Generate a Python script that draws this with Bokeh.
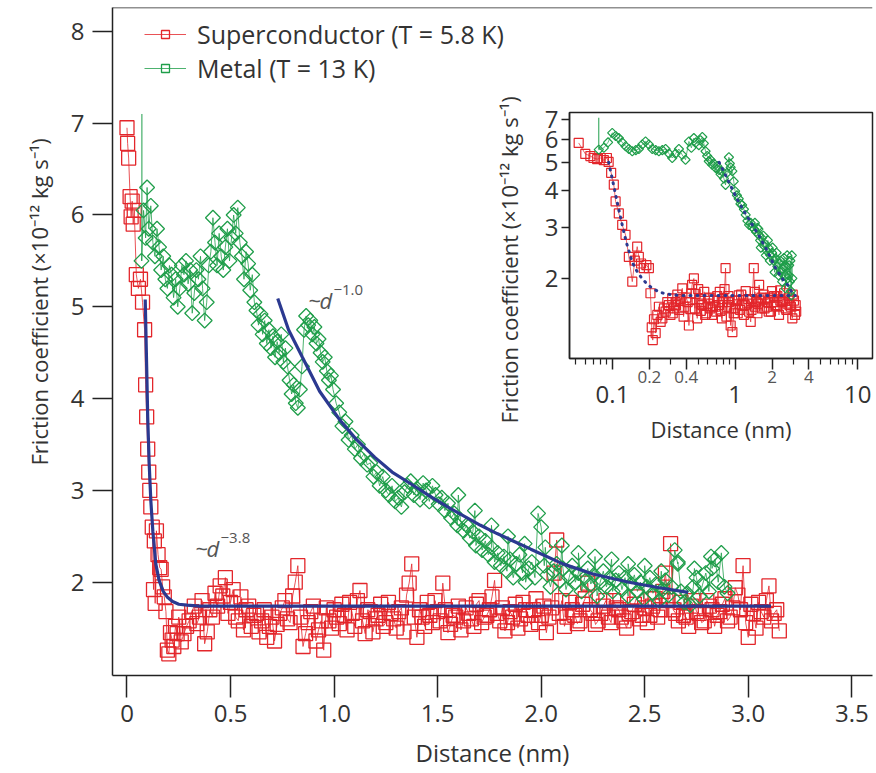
from bokeh.plotting import figure
from bokeh.models import (Range1d, FixedTicker, Span, Label, Legend, LegendItem, Title,
                          NumeralTickFormatter, BasicTickFormatter, LogAxis)
from bokeh.layouts import column
from bokeh.embed import file_html
from bokeh.resources import INLINE

FONT = "Open Sans"
TXT = "#333333"
RED = "#e3262b"
GREEN = "#1f9e4a"
BLUE = "#2b3990"

# ---------------- main panel data ----------------
sc_x_start = [0.000, 0.003, 0.008, 0.015, 0.020, 0.025, 0.030, 0.035, 0.045, 0.055,
              0.065, 0.075, 0.085, 0.090, 0.095, 0.100, 0.105, 0.110, 0.115, 0.122,
              0.128, 0.132, 0.136, 0.142, 0.150, 0.158, 0.165, 0.172, 0.180, 0.188,
              0.195, 0.202, 0.210, 0.218, 0.226, 0.234, 0.242, 0.250, 0.262]
sc_y_start = [6.95, 6.78, 6.62, 6.20, 5.98, 6.15, 5.90, 6.05, 5.35, 5.20,
              5.30, 5.05, 4.75, 4.15, 3.80, 3.45, 3.20, 3.00, 2.82, 2.60,
              1.92, 2.45, 1.77, 2.56, 2.30, 2.16, 2.14, 1.95, 1.84, 1.68,
              1.26, 1.22, 1.45, 1.37, 1.30, 1.52, 1.44, 1.62, 1.35]
sc_x_plateau = [0.275, 0.300, 0.325, 0.350, 0.375, 0.400, 0.425, 0.450, 0.475, 0.500,
                0.525, 0.550, 0.575, 0.600, 0.625, 0.650, 0.675, 0.700, 0.725, 0.750,
                0.775, 0.800, 0.825, 0.850, 0.875, 0.900, 0.925, 0.950, 0.975, 1.000,
                1.025, 1.050, 1.075, 1.100, 1.125, 1.150, 1.175, 1.200, 1.225, 1.250,
                1.275, 1.300, 1.325, 1.350, 1.375, 1.400, 1.425, 1.450, 1.475, 1.500,
                1.525, 1.550, 1.575, 1.600, 1.625, 1.650, 1.675, 1.700, 1.725, 1.750,
                1.775, 1.800, 1.825, 1.850, 1.875, 1.900, 1.925, 1.950, 1.975, 2.000,
                2.025, 2.050, 2.075, 2.100, 2.125, 2.150, 2.175, 2.200, 2.225, 2.250,
                2.275, 2.300, 2.325, 2.350, 2.375, 2.400, 2.425, 2.450, 2.475, 2.500,
                2.525, 2.550, 2.575, 2.600, 2.625, 2.650, 2.675, 2.700, 2.725, 2.750,
                2.775, 2.800, 2.825, 2.850, 2.875, 2.900, 2.925, 2.950, 2.975, 3.000,
                3.025, 3.050, 3.075, 3.100, 3.125, 3.150]
sc_y_plateau = [1.44, 1.58, 1.74, 1.62, 1.33, 1.70, 1.88, 1.96, 2.05, 1.78,
                1.62, 1.84, 1.70, 1.52, 1.66, 1.58, 1.40, 1.62, 1.54, 1.72,
                1.60, 1.85, 2.18, 1.30, 1.56, 1.74, 1.48, 1.26, 1.58, 1.70,
                1.55, 1.64, 1.78, 1.52, 1.91, 1.44, 1.68, 1.60, 1.76, 1.56,
                1.66, 1.50, 1.72, 1.86, 2.20, 1.40, 1.62, 1.78, 1.56, 1.68,
                1.99, 1.45, 1.64, 1.74, 1.58, 1.66, 1.52, 1.80, 1.62, 1.70,
                2.02, 1.58, 1.47, 1.68, 1.76, 1.60, 1.70, 1.54, 1.82, 1.64,
                1.45, 1.72, 2.46, 1.80, 1.62, 1.70, 1.55, 1.76, 1.99, 1.66,
                1.58, 1.74, 1.62, 1.80, 1.70, 1.58, 1.66, 1.76, 1.60, 1.72,
                1.64, 1.82, 1.70, 2.10, 2.42, 1.66, 1.78, 1.62, 1.74, 1.68,
                1.56, 1.80, 1.70, 1.64, 1.76, 1.58, 1.72, 1.86, 2.18, 1.40,
                1.66, 1.78, 1.62, 1.96, 1.66, 1.47]
sc_x_plateau_b = [0.2875, 0.3125, 0.3375, 0.3625, 0.3875, 0.4125, 0.4375, 0.4625, 0.4875, 0.5125,
                  0.5375, 0.5625, 0.5875, 0.6125, 0.6375, 0.6625, 0.6875, 0.7125, 0.7375, 0.7625,
                  0.7875, 0.8125, 0.8375, 0.8625, 0.8875, 0.9125, 0.9375, 0.9625, 0.9875, 1.0125,
                  1.0375, 1.0625, 1.0875, 1.1125, 1.1375, 1.1625, 1.1875, 1.2125, 1.2375, 1.2625,
                  1.2875, 1.3125, 1.3375, 1.3625, 1.3875, 1.4125, 1.4375, 1.4625, 1.4875, 1.5125,
                  1.5375, 1.5625, 1.5875, 1.6125, 1.6375, 1.6625, 1.6875, 1.7125, 1.7375, 1.7625,
                  1.7875, 1.8125, 1.8375, 1.8625, 1.8875, 1.9125, 1.9375, 1.9625, 1.9875, 2.0125,
                  2.0375, 2.0625, 2.0875, 2.1125, 2.1375, 2.1625, 2.1875, 2.2125, 2.2375, 2.2625,
                  2.2875, 2.3125, 2.3375, 2.3625, 2.3875, 2.4125, 2.4375, 2.4625, 2.4875, 2.5125,
                  2.5375, 2.5625, 2.5875, 2.6125, 2.6375, 2.6625, 2.6875, 2.7125, 2.7375, 2.7625,
                  2.7875, 2.8125, 2.8375, 2.8625, 2.8875, 2.9125, 2.9375, 2.9625, 2.9875, 3.0125,
                  3.0375, 3.0625, 3.0875, 3.1125, 3.1375]
sc_y_plateau_b = [1.52, 1.68, 1.55, 1.80, 1.46, 1.62, 1.74, 1.85, 1.66, 1.92,
                  1.58, 1.48, 1.74, 1.64, 1.46, 1.70, 1.52, 1.36, 1.66, 1.80,
                  1.56, 2.00, 1.62, 1.44, 1.68, 1.36, 1.58, 1.72, 1.50, 1.62,
                  1.76, 1.48, 1.66, 1.80, 1.58, 1.70, 1.46, 1.64, 1.52, 1.78,
                  1.60, 1.68, 1.46, 1.99, 1.62, 1.70, 1.52, 1.64, 1.80, 1.58,
                  1.70, 1.54, 1.62, 1.48, 1.72, 1.60, 1.76, 1.56, 1.64, 1.84,
                  1.66, 1.72, 1.56, 1.62, 1.50, 1.78, 1.64, 1.70, 1.56, 1.74,
                  1.62, 2.10, 1.66, 1.52, 1.78, 1.64, 1.58, 1.82, 1.70, 1.54,
                  1.66, 1.80, 1.56, 1.72, 1.62, 1.50, 1.68, 1.84, 1.64, 1.56,
                  1.74, 1.62, 1.90, 1.80, 1.70, 1.58, 1.64, 1.52, 1.80, 1.66,
                  1.58, 1.74, 1.52, 1.68, 1.82, 1.62, 1.94, 1.70, 1.56, 1.76,
                  1.50, 1.68, 1.80, 1.58, 1.70]

metal_x_near = [0.070, 0.080, 0.090, 0.097, 0.105, 0.115, 0.125, 0.135, 0.145, 0.155,
                0.165, 0.175, 0.185, 0.195, 0.205, 0.215, 0.225, 0.235, 0.245, 0.255,
                0.265, 0.275, 0.285, 0.295, 0.305, 0.315, 0.325, 0.335, 0.345, 0.355,
                0.365, 0.375, 0.385, 0.395, 0.405, 0.415, 0.425, 0.435, 0.445, 0.455,
                0.465, 0.475, 0.485, 0.495, 0.505, 0.515, 0.525, 0.535, 0.545, 0.555,
                0.565, 0.575, 0.585, 0.595, 0.605, 0.615, 0.625, 0.635, 0.645, 0.655,
                0.665, 0.675, 0.685, 0.695, 0.705, 0.715, 0.725, 0.735, 0.745, 0.755,
                0.765, 0.775, 0.785, 0.795, 0.805, 0.815, 0.825, 0.835, 0.845, 0.855,
                0.865, 0.875, 0.885, 0.895, 0.905, 0.915, 0.925, 0.935, 0.945, 0.955,
                0.965, 0.975, 0.985, 0.995]
metal_y_near = [5.50, 6.05, 5.75, 6.30, 5.85, 6.10, 5.70, 5.55, 5.85, 5.65,
                5.40, 5.55, 5.30, 5.20, 5.45, 5.35, 5.10, 5.30, 5.00, 5.20,
                5.45, 5.35, 5.50, 5.25, 5.40, 4.93, 5.15, 5.40, 5.30, 5.55,
                5.20, 4.85, 5.05, 5.45, 5.60, 5.97, 5.70, 5.45, 5.80, 5.55,
                5.40, 5.65, 5.85, 5.50, 5.75, 6.00, 5.80, 6.08, 5.70, 5.55,
                5.30, 5.60, 5.47, 5.18, 5.35, 5.05, 4.96, 4.80, 4.92, 4.70,
                4.85, 4.60, 4.75, 4.55, 4.68, 4.45, 4.62, 4.50, 4.70, 4.40,
                4.55, 4.35, 4.20, 4.05, 4.15, 3.95, 3.90, 4.10, 4.35, 4.75,
                4.90, 4.80, 4.85, 4.70, 4.78, 4.60, 4.65, 4.50, 4.40, 4.45,
                4.30, 4.20, 4.25, 4.10]
metal_x_far = [1.010, 1.025, 1.040, 1.055, 1.070, 1.085, 1.100, 1.115, 1.130, 1.145,
               1.160, 1.175, 1.190, 1.205, 1.220, 1.235, 1.250, 1.265, 1.280, 1.295,
               1.310, 1.325, 1.340, 1.355, 1.370, 1.385, 1.400, 1.415, 1.430, 1.445,
               1.460, 1.475, 1.490, 1.505, 1.520, 1.535, 1.550, 1.565, 1.580, 1.595,
               1.610, 1.625, 1.640, 1.655, 1.670, 1.685, 1.700, 1.715, 1.730, 1.745,
               1.760, 1.775, 1.790, 1.805, 1.820, 1.835, 1.850, 1.865, 1.880, 1.895,
               1.910, 1.925, 1.940, 1.955, 1.970, 1.985, 2.000, 2.015, 2.030, 2.045,
               2.060, 2.075, 2.090, 2.105, 2.120, 2.135, 2.150, 2.165, 2.180, 2.195,
               2.210, 2.225, 2.240, 2.255, 2.270, 2.285, 2.300, 2.315, 2.330, 2.345,
               2.360, 2.375, 2.390, 2.405, 2.420, 2.435, 2.450, 2.465, 2.480, 2.495,
               2.510, 2.525, 2.540, 2.555, 2.570, 2.585, 2.600, 2.615, 2.630, 2.645,
               2.660, 2.675, 2.690, 2.705, 2.720, 2.735, 2.750, 2.765, 2.780, 2.795,
               2.810, 2.825, 2.840, 2.855, 2.870, 2.885, 2.900]
metal_y_far = [3.95, 3.85, 3.70, 3.75, 3.55, 3.60, 3.45, 3.50, 3.35, 3.40,
               3.28, 3.30, 3.15, 3.20, 3.05, 3.15, 3.00, 2.95, 3.05, 2.88,
               2.92, 2.82, 2.98, 3.05, 3.10, 2.95, 3.02, 2.90, 3.08, 3.00,
               2.88, 3.05, 2.95, 2.85, 2.92, 2.78, 2.86, 2.70, 2.75, 2.62,
               2.68, 2.56, 2.62, 2.48, 2.55, 2.40, 2.50, 2.35, 2.45, 2.30,
               2.38, 2.22, 2.32, 2.18, 2.28, 2.12, 2.25, 2.05, 2.20, 2.30,
               2.10, 2.00, 2.15, 2.22, 2.05, 2.75, 2.60, 2.18, 2.08, 1.95,
               2.12, 2.20, 2.02, 2.15, 1.92, 2.05, 2.18, 2.00, 2.10, 1.90,
               2.05, 2.15, 1.98, 2.08, 1.85, 2.00, 2.12, 1.95, 2.05, 1.90,
               2.02, 2.10, 1.92, 2.05, 1.85, 1.98, 2.08, 1.90, 2.00, 1.82,
               1.95, 2.05, 1.88, 1.98, 1.80, 1.92, 2.02, 1.86, 1.95, 2.35,
               2.20, 1.90, 1.78, 1.88, 1.75, 1.95, 2.05, 1.85, 1.98, 2.10,
               1.90, 2.15, 2.25, 2.00, 2.32, 1.95, 1.88]
metal_x_extra = [1.600, 1.680, 1.760, 1.840, 1.920, 2.020, 2.100, 2.180, 2.260, 2.340,
                 2.420, 2.500, 2.580, 2.660, 2.740, 2.820]
metal_y_extra = [2.95, 2.78, 2.62, 2.50, 2.42, 2.38, 2.40, 2.32, 2.28, 2.25,
                 2.20, 2.18, 2.12, 2.22, 2.15, 2.28]
metal_err_x = [0.072]
metal_err_lo = [5.50]
metal_err_hi = [7.10]

fit_sc_x = [0.088, 0.095, 0.100, 0.107, 0.115, 0.125, 0.139, 0.155, 0.175, 0.194,
            0.220, 0.250, 0.290, 0.350, 0.500, 1.000, 2.000, 3.110]
fit_sc_y = [5.08, 4.35, 3.80, 3.30, 2.89, 2.55, 2.20, 2.02, 1.90, 1.84,
            1.79, 1.76, 1.75, 1.74, 1.74, 1.74, 1.74, 1.74]
fit_m_x = [0.728, 0.780, 0.847, 0.930, 1.030, 1.110, 1.197, 1.280, 1.372, 1.468,
           1.548, 1.707, 1.787, 1.950, 2.105, 2.250, 2.424, 2.570, 2.710]
fit_m_y = [5.09, 4.75, 4.45, 4.08, 3.76, 3.55, 3.36, 3.20, 3.07, 2.93,
           2.82, 2.62, 2.53, 2.36, 2.20, 2.09, 2.00, 1.94, 1.89]

x_ticks = [0, 0.5, 1.0, 1.5, 2.0, 2.5, 3.0, 3.5]
y_ticks = [2, 3, 4, 5, 6, 7, 8]

# ---------------- inset data ----------------
in_sc_x = [0.053, 0.060, 0.066, 0.070, 0.075, 0.080, 0.085, 0.090, 0.093, 0.0975,
           0.1025, 0.106, 0.1126, 0.120, 0.1277, 0.136, 0.145, 0.152, 0.159, 0.164,
           0.171, 0.180, 0.189, 0.198, 0.204, 0.209, 0.213, 0.218, 0.225, 0.232,
           0.239, 0.247, 0.255, 0.263, 0.271, 0.280, 0.288, 0.297, 0.307, 0.317,
           0.327, 0.338, 0.350, 0.360, 0.371, 0.385, 0.400, 0.420, 0.432, 0.446,
           0.461, 0.476, 0.491, 0.510, 0.525, 0.540, 0.560, 0.580, 0.600, 0.610,
           0.630, 0.650, 0.670, 0.690, 0.715, 0.740, 0.760, 0.780, 0.800, 0.820,
           0.836, 0.860, 0.890, 0.920, 0.950, 0.975, 1.000, 1.035, 1.070, 1.100,
           1.140, 1.180, 1.220, 1.260, 1.300, 1.340, 1.380, 1.420, 1.450, 1.480,
           1.520, 1.570, 1.610, 1.660, 1.710, 1.760, 1.820, 1.880, 1.940, 2.000,
           2.070, 2.140, 2.210, 2.280, 2.350, 2.430, 2.510, 2.590, 2.670, 2.760,
           2.850, 2.930, 3.020, 3.120, 3.150]
in_sc_y = [5.82, 5.34, 5.25, 5.17, 5.12, 5.17, 5.08, 5.17, 5.01, 4.60,
           4.19, 3.67, 3.34, 3.05, 2.82, 2.37, 1.95, 2.30, 2.57, 2.37,
           2.25, 2.17, 2.22, 2.17, 1.78, 1.36, 1.23, 1.45, 1.30, 1.50,
           1.60, 1.42, 1.46, 1.58, 1.54, 1.66, 1.62, 1.50, 1.71, 1.58,
           1.66, 1.76, 1.56, 1.68, 1.85, 1.60, 1.72, 1.38, 1.57, 1.90,
           2.00, 1.77, 1.46, 1.70, 1.55, 1.62, 1.80, 1.52, 1.64, 1.71,
           1.58, 1.50, 1.68, 1.60, 1.74, 1.62, 1.55, 1.46, 1.70, 1.84,
           2.17, 1.60, 1.66, 1.38, 1.31, 1.52, 1.58, 1.68, 1.75, 1.56,
           1.62, 1.50, 1.81, 1.64, 1.54, 1.42, 1.70, 2.17, 1.60, 1.66,
           1.52, 1.90, 1.68, 1.58, 1.76, 1.71, 1.60, 1.54, 1.72, 1.81,
           1.66, 1.62, 1.74, 1.50, 1.68, 1.66, 1.78, 1.58, 1.64, 1.71,
           1.60, 1.46, 1.68, 1.62, 1.54]
in_sc_x_b = [0.310, 0.330, 0.355, 0.380, 0.410, 0.440, 0.470, 0.500, 0.530, 0.570,
             0.620, 0.660, 0.700, 0.750, 0.790, 0.850, 0.880, 0.930, 0.990, 1.050,
             1.120, 1.200, 1.280, 1.360, 1.450, 1.540, 1.640, 1.740, 1.850, 1.960,
             2.080, 2.200, 2.330, 2.470, 2.620, 2.780, 2.950, 3.080]
in_sc_y_b = [1.52, 1.62, 1.70, 1.48, 1.66, 1.78, 1.58, 1.84, 1.64, 1.50,
             1.72, 1.60, 1.54, 1.80, 1.66, 1.48, 1.74, 1.58, 1.68, 1.52,
             1.76, 1.62, 1.70, 1.56, 1.80, 1.64, 1.72, 1.58, 1.66, 1.54,
             1.74, 1.60, 1.82, 1.68, 1.56, 1.62, 1.76, 1.50]
in_m_x = [0.0773, 0.085, 0.092, 0.0995, 0.106, 0.1126, 0.120, 0.128, 0.136, 0.145,
          0.155, 0.164, 0.175, 0.186, 0.198, 0.211, 0.225, 0.239, 0.255, 0.271,
          0.289, 0.307, 0.327, 0.348, 0.370, 0.394, 0.420, 0.440, 0.461, 0.480,
          0.506, 0.523, 0.540, 0.556, 0.574, 0.592, 0.610, 0.630, 0.650, 0.670,
          0.693, 0.715, 0.740, 0.760, 0.780, 0.810, 0.836, 0.860, 0.890, 0.905,
          0.920, 0.950, 0.975, 1.000, 1.035, 1.070, 1.105, 1.140, 1.180, 1.220,
          1.260, 1.300, 1.340, 1.380, 1.430, 1.480, 1.520, 1.560, 1.600, 1.650,
          1.700, 1.760, 1.820, 1.880, 1.940, 2.000, 2.070, 2.140, 2.210, 2.280,
          2.350, 2.430, 2.500, 2.560, 2.600, 2.680, 2.760, 2.800, 2.850, 2.900,
          2.930]
in_m_y = [5.52, 5.60, 5.85, 6.30, 6.15, 6.05, 5.85, 5.67, 5.55, 5.45,
          5.50, 5.55, 5.75, 5.89, 5.75, 5.55, 5.50, 5.45, 5.50, 5.55,
          5.35, 5.17, 5.35, 5.55, 5.30, 5.10, 5.89, 5.60, 6.05, 5.85,
          5.72, 5.95, 6.10, 5.80, 5.45, 5.25, 5.04, 5.10, 4.90, 4.95,
          4.78, 4.85, 4.70, 4.55, 4.66, 4.40, 4.18, 4.60, 5.20, 4.95,
          4.80, 4.66, 4.30, 3.98, 3.85, 3.75, 3.60, 3.57, 3.45, 3.30,
          3.15, 3.05, 3.10, 3.00, 2.95, 2.89, 2.98, 2.82, 2.70, 2.75,
          2.60, 2.62, 2.48, 2.54, 2.40, 2.45, 2.30, 2.34, 2.20, 2.25,
          2.10, 2.16, 2.35, 2.05, 2.20, 2.00, 2.22, 1.95, 1.81, 2.40,
          2.00]
in_m_x_b = [1.450, 1.550, 1.620, 1.700, 1.780, 1.850, 1.920, 2.020, 2.100, 2.180,
            2.260, 2.340, 2.420, 2.500, 2.580, 2.660, 2.740, 2.820, 2.880]
in_m_y_b = [3.10, 2.95, 2.55, 2.80, 2.40, 2.70, 2.30, 2.55, 2.10, 2.45,
            2.05, 2.30, 1.95, 2.20, 1.85, 2.40, 2.05, 2.30, 1.75]
in_m_err_x = [0.0773]
in_m_err_lo = [5.52]
in_m_err_hi = [7.10]

in_fit_sc_x = [0.093, 0.100, 0.110, 0.120, 0.130, 0.145, 0.160, 0.174, 0.190, 0.211,
               0.240, 0.271, 0.350, 0.600, 1.000, 2.000, 3.100]
in_fit_sc_y = [5.00, 4.35, 3.60, 3.05, 2.65, 2.27, 2.10, 2.00, 1.92, 1.85,
               1.80, 1.77, 1.75, 1.75, 1.75, 1.75, 1.75]
in_fit_m_x = [0.740, 0.850, 1.030, 1.200, 1.370, 1.550, 1.790, 2.100, 2.420, 2.710, 2.930]
in_fit_m_y = [5.00, 4.45, 3.76, 3.36, 3.07, 2.82, 2.53, 2.20, 2.00, 1.89, 1.78]

in_x_major = [0.1, 1, 10]
in_x_small_labels = [0.2, 0.4, 2, 4]
in_x_minor = [0.05, 0.06, 0.07, 0.08, 0.09, 0.3, 0.5, 0.6, 0.7, 0.8, 0.9,
              3, 5, 6, 7, 8, 9]
in_y_ticks = [2, 3, 4, 5, 6, 7]

Y_LABEL = "Friction coefficient (\u00d710\u207b\u00b9\u00b2 kg s\u207b\u00b9)"


def merged(xa, ya, xb, yb):
    pts = sorted(zip(list(xa) + list(xb), list(ya) + list(yb)))
    return [q[0] for q in pts], [q[1] for q in pts]


# ---------------- main figure ----------------
p = figure(width=876, height=773, x_range=Range1d(-0.070, 3.600), y_range=Range1d(0.984, 8.26),
           output_backend="svg", toolbar_location=None,
           min_border_left=108, min_border_right=0, min_border_top=7, min_border_bottom=98)
p.outline_line_color = None
p.grid.visible = False
p.background_fill_color = "white"
p.border_fill_color = "white"
p.add_layout(Span(location=8.26, dimension="width", line_color="#222222", line_width=1.5))

for ax in (p.xaxis[0], p.yaxis[0]):
    ax.axis_line_color = "#222222"
    ax.axis_line_width = 1.5
    ax.major_tick_line_color = "#222222"
    ax.major_tick_line_width = 1.5
    ax.major_tick_in = 0
    ax.minor_tick_line_color = None
    ax.major_label_text_font = FONT
    ax.major_label_text_color = TXT
    ax.major_label_text_font_size = "24px"
    ax.axis_label_text_font = FONT
    ax.axis_label_text_color = TXT
    ax.axis_label_text_font_style = "normal"
    ax.axis_label_text_font_size = "24px"

p.xaxis.ticker = FixedTicker(ticks=x_ticks)
p.xaxis.formatter = NumeralTickFormatter(format="0.0")
p.xaxis.major_label_overrides = {0: "0"}
p.xaxis.major_tick_out = 22
p.xaxis.major_label_standoff = 7
p.xaxis.axis_label = "Distance (nm)"
p.xaxis.axis_label_standoff = 11

p.yaxis.ticker = FixedTicker(ticks=y_ticks)
p.yaxis.major_tick_out = 20
p.yaxis.major_label_standoff = 8

p.add_layout(Title(text=Y_LABEL, align="left", offset=210, vertical_align="bottom",
                   standoff=28, text_font=FONT, text_font_size="22px",
                   text_font_style="normal", text_color=TXT), "left")

sc_x, sc_y = merged(sc_x_start + sc_x_plateau, sc_y_start + sc_y_plateau,
                    sc_x_plateau_b, sc_y_plateau_b)
m_x, m_y = merged(metal_x_near + metal_x_far, metal_y_near + metal_y_far,
                  metal_x_extra, metal_y_extra)

r_sc_line = p.line(sc_x, sc_y, line_color=RED, line_width=0.8)
r_sc = p.scatter(sc_x, sc_y, marker="square", size=14, line_color=RED, line_width=1.3,
                 fill_color=None)
p.segment(x0=metal_err_x, y0=metal_err_lo, x1=metal_err_x, y1=metal_err_hi,
          line_color=GREEN, line_width=1)
r_m_line = p.line(m_x, m_y, line_color=GREEN, line_width=0.8)
r_m = p.scatter(m_x, m_y, marker="square", angle=0.7854, size=10.5, line_color=GREEN,
                line_width=1.3, fill_color=None)
p.line(fit_sc_x, fit_sc_y, line_color=BLUE, line_width=3.2)
p.line(fit_m_x, fit_m_y, line_color=BLUE, line_width=3.2)

legend = Legend(items=[LegendItem(label="Superconductor (T = 5.8 K)", renderers=[r_sc_line, r_sc]),
                       LegendItem(label="Metal (T = 13 K)", renderers=[r_m_line, r_m])],
                location=(32, 590), padding=0, margin=0, spacing=-4,
                glyph_width=42, glyph_height=20, label_standoff=11,
                label_text_font=FONT, label_text_font_size="25px", label_text_color=TXT,
                border_line_color=None, background_fill_alpha=0)
p.add_layout(legend)

ANN = "#555555"
ann_m = (0.876, 5.07)
ann_s = (0.331, 2.37)
for (ax_, ay_), sup in ((ann_m, "\u22121.0"), (ann_s, "\u22123.8")):
    p.add_layout(Label(x=ax_, y=ay_, text="~", text_font=FONT, text_font_size="22px",
                       text_color=ANN, text_baseline="alphabetic"))
    p.add_layout(Label(x=ax_, y=ay_, x_offset=11, text="d", text_font=FONT,
                       text_font_size="22px", text_font_style="italic", text_color=ANN,
                       text_baseline="alphabetic"))
    p.add_layout(Label(x=ax_, y=ay_, x_offset=25, y_offset=10, text=sup, text_font=FONT,
                       text_font_size="15px", text_color=ANN, text_baseline="alphabetic"))

# ---------------- inset figure ----------------
ins = figure(frame_width=303, frame_height=246, x_axis_type="log", y_axis_type="log",
             x_range=Range1d(0.0446, 13.2), y_range=Range1d(1.064, 7.40),
             output_backend="svg", toolbar_location=None,
             min_border_left=112, min_border_right=4, min_border_top=27, min_border_bottom=97,
             margin=(-688, 0, 0, 457))
ins.border_fill_color = None
ins.background_fill_color = "white"
ins.outline_line_color = "#222222"
ins.outline_line_width = 1.5
ins.grid.visible = False

# axis nearest the frame: ticks + small labels (0.2, 0.4, 2, 4)
xa = ins.xaxis[0]
xa.ticker = FixedTicker(ticks=sorted(in_x_major + in_x_small_labels), minor_ticks=in_x_minor)
xa.formatter = BasicTickFormatter()
xa.major_label_overrides = {0.1: "", 1: "", 10: "", 0.2: "0.2", 0.4: "0.4", 2: "2", 4: "4"}
xa.major_label_text_font = FONT
xa.major_label_text_font_size = "17px"
xa.major_label_text_color = "#555555"
xa.major_label_standoff = 1
xa.axis_line_color = "#222222"
xa.axis_line_width = 1.5
xa.major_tick_line_color = "#222222"
xa.major_tick_line_width = 1.5
xa.major_tick_out = 11
xa.major_tick_in = 0
xa.minor_tick_line_color = "#222222"
xa.minor_tick_line_width = 1.2
xa.minor_tick_out = 6
xa.minor_tick_in = 0

# outer axis: decade labels and the axis title
xb = LogAxis(ticker=FixedTicker(ticks=in_x_major), formatter=BasicTickFormatter(),
             major_label_overrides={0.1: "0.1", 1: "1", 10: "10"},
             axis_line_color=None, major_tick_line_color=None, minor_tick_line_color=None,
             major_tick_out=0, major_tick_in=0, major_label_standoff=0,
             major_label_text_font=FONT, major_label_text_font_size="24px",
             major_label_text_color=TXT,
             axis_label="Distance (nm)", axis_label_standoff=8,
             axis_label_text_font=FONT, axis_label_text_font_size="22px",
             axis_label_text_font_style="normal", axis_label_text_color=TXT)
ins.add_layout(xb, "below")

ya = ins.yaxis[0]
ya.ticker = FixedTicker(ticks=in_y_ticks)
ya.formatter = BasicTickFormatter()
ya.axis_line_color = "#222222"
ya.axis_line_width = 1.5
ya.major_tick_line_color = "#222222"
ya.major_tick_line_width = 1.5
ya.major_tick_out = 8
ya.major_tick_in = 0
ya.minor_tick_line_color = None
ya.major_label_standoff = 3
ya.major_label_text_font = FONT
ya.major_label_text_font_size = "24px"
ya.major_label_text_color = TXT

ins.add_layout(Title(text=Y_LABEL, align="left", offset=-65, vertical_align="bottom",
                     standoff=36, text_font=FONT, text_font_size="22px",
                     text_font_style="normal", text_color=TXT), "left")

isc_x, isc_y = merged(in_sc_x, in_sc_y, in_sc_x_b, in_sc_y_b)
im_x, im_y = merged(in_m_x, in_m_y, in_m_x_b, in_m_y_b)
ins.line(isc_x, isc_y, line_color=RED, line_width=0.7)
ins.scatter(isc_x, isc_y, marker="square", size=9, line_color=RED, line_width=1.2,
            fill_color=None)
ins.segment(x0=in_m_err_x, y0=in_m_err_lo, x1=in_m_err_x, y1=in_m_err_hi,
            line_color=GREEN, line_width=1)
ins.line(im_x, im_y, line_color=GREEN, line_width=0.7)
ins.scatter(im_x, im_y, marker="square", angle=0.7854, size=6.5, line_color=GREEN,
            line_width=1.2, fill_color=None)
ins.line(in_fit_sc_x, in_fit_sc_y, line_color=BLUE, line_width=3, line_dash="1 6",
         line_cap="round")
ins.line(in_fit_m_x, in_fit_m_y, line_color=BLUE, line_width=3, line_dash="1 6",
         line_cap="round")

layout = column(p, ins)
open("out.html", "w").write(file_html(layout, INLINE))
